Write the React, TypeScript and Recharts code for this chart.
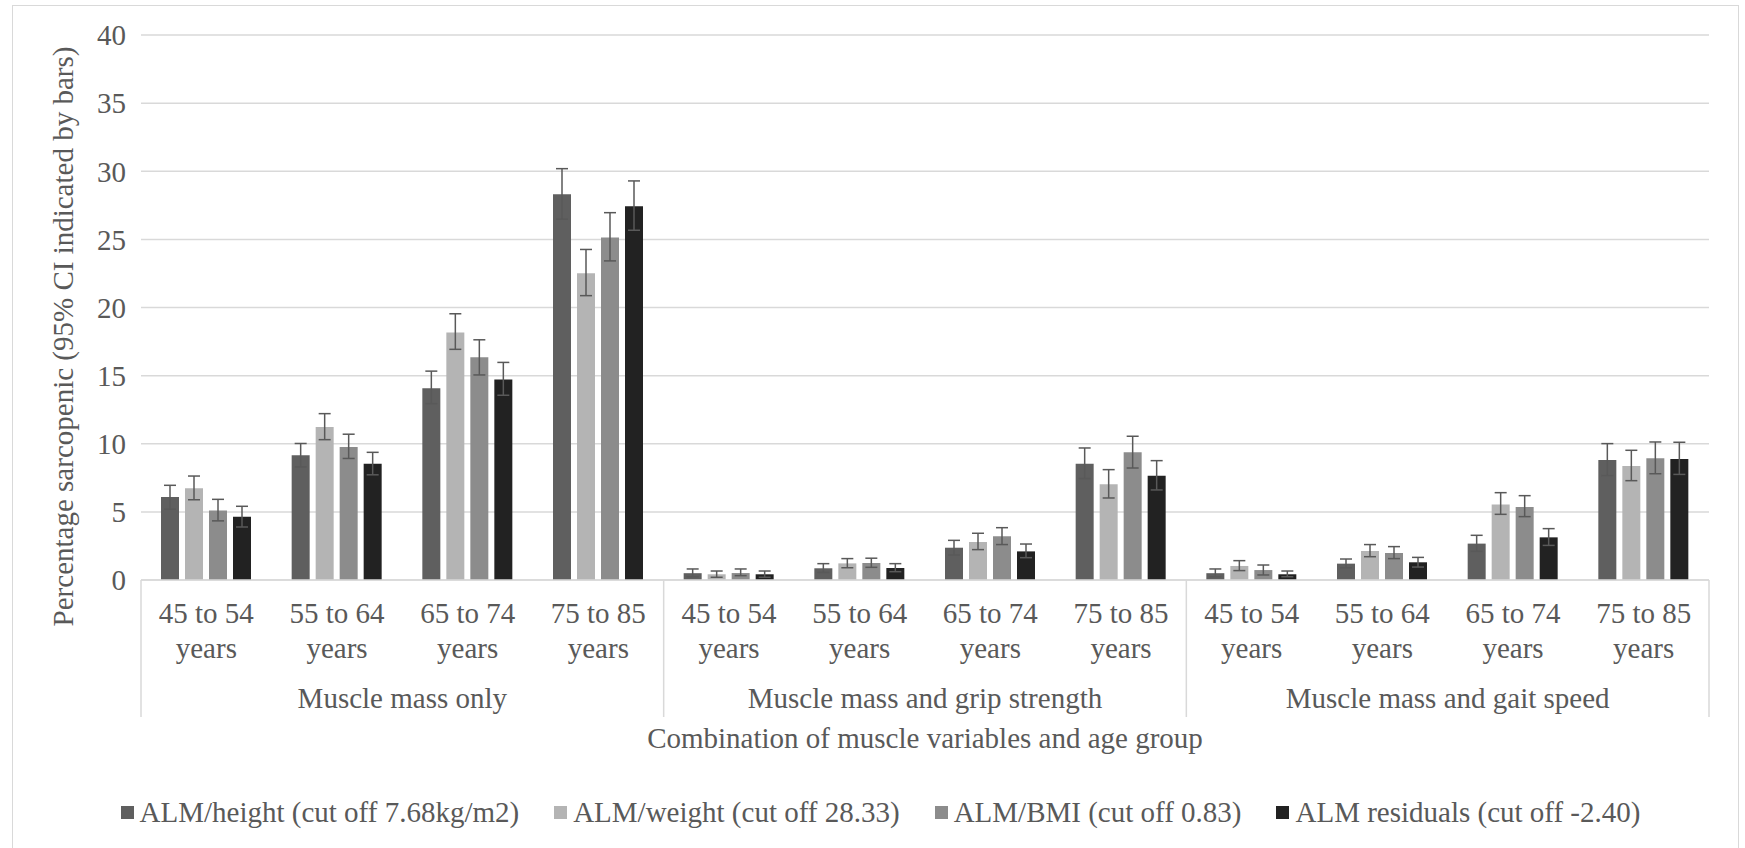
import { BarChart, Bar, XAxis, YAxis, CartesianGrid, ErrorBar, Legend } from "recharts";

const groups = ["Muscle mass only", "Muscle mass and grip strength", "Muscle mass and gait speed"];
const ages = ["45 to 54", "55 to 64", "65 to 74", "75 to 85"];
const yTicks = [0, 5, 10, 15, 20, 25, 30, 35, 40];

const seriesNames = [
  "ALM/height (cut off 7.68kg/m2)",
  "ALM/weight (cut off 28.33)",
  "ALM/BMI (cut off 0.83)",
  "ALM residuals (cut off -2.40)",
];
const seriesColors = ["#5f5f5f", "#b4b4b4", "#8c8c8c", "#222222"];

const heightVals = [6.1, 9.15, 14.07, 28.31, 0.5, 0.86, 2.37, 8.54, 0.5, 1.2, 2.67, 8.81];
const heightLo = [5.2, 8.3, 12.94, 26.48, 0.24, 0.56, 1.84, 7.44, 0.24, 0.9, 2.1, 7.66];
const heightHi = [6.95, 10.02, 15.33, 30.19, 0.81, 1.2, 2.91, 9.69, 0.81, 1.54, 3.28, 10.01];

const weightVals = [6.73, 11.23, 18.17, 22.52, 0.42, 1.22, 2.79, 7.02, 1.03, 2.13, 5.55, 8.37];
const weightLo = [5.89, 10.3, 16.93, 20.87, 0.2, 0.9, 2.23, 6.02, 0.69, 1.71, 4.82, 7.29];
const weightHi = [7.63, 12.21, 19.54, 24.26, 0.66, 1.57, 3.43, 8.1, 1.42, 2.6, 6.41, 9.52];

const bmiVals = [5.1, 9.77, 16.34, 25.13, 0.51, 1.25, 3.21, 9.37, 0.73, 1.98, 5.36, 8.93];
const bmiLo = [4.34, 8.92, 15.05, 23.42, 0.32, 0.93, 2.6, 8.22, 0.37, 1.57, 4.65, 7.8];
const bmiHi = [5.92, 10.7, 17.63, 26.96, 0.81, 1.6, 3.84, 10.55, 1.1, 2.45, 6.19, 10.13];

const residVals = [4.65, 8.53, 14.71, 27.44, 0.42, 0.88, 2.1, 7.66, 0.42, 1.3, 3.13, 8.88];
const residLo = [3.89, 7.72, 13.56, 25.67, 0.2, 0.61, 1.64, 6.61, 0.24, 0.95, 2.54, 7.75];
const residHi = [5.41, 9.37, 15.97, 29.29, 0.66, 1.2, 2.64, 8.76, 0.66, 1.66, 3.77, 10.11];

const series = [
  [heightVals, heightLo, heightHi],
  [weightVals, weightLo, weightHi],
  [bmiVals, bmiLo, bmiHi],
  [residVals, residLo, residHi],
];

const data = groups.flatMap((g, gi) =>
  ages.map((age, ai) => {
    const i = gi * ages.length + ai;
    const row: any = { group: g, age };
    series.forEach(([v, lo, hi], s) => {
      row["s" + s] = v[i];
      row["e" + s] = [+(v[i] - lo[i]).toFixed(2), +(hi[i] - v[i]).toFixed(2)];
    });
    return row;
  })
);

const FONT = '"Liberation Serif", "Times New Roman", serif';
const TEXT = "#595959";
const LINE = "#d9d9d9";

function CategoryTick(props: any) {
  const { x, y, payload, index } = props;
  const half = payload?.offset ?? 65.3;
  const i = index ?? payload?.index ?? 0;
  const per = ages.length;
  return (
    <g>
      <text x={x} y={y + 43} textAnchor="middle" fill={TEXT} fontSize={29} fontFamily={FONT}>
        {payload.value}
      </text>
      <text x={x} y={y + 78} textAnchor="middle" fill={TEXT} fontSize={29} fontFamily={FONT}>
        years
      </text>
      {i % per === 0 && <line x1={x - half} x2={x - half} y1={y} y2={y + 137} stroke={LINE} strokeWidth={1.5} />}
      {i === data.length - 1 && (
        <line x1={x + half} x2={x + half} y1={y} y2={y + 137} stroke={LINE} strokeWidth={1.5} />
      )}
      {i % per === 1 && (
        <text x={x + half} y={y + 128} textAnchor="middle" fill={TEXT} fontSize={29} fontFamily={FONT}>
          {groups[Math.floor(i / per)]}
        </text>
      )}
    </g>
  );
}

function LegendContent() {
  return (
    <div
      style={{
        display: "flex",
        justifyContent: "center",
        alignItems: "center",
        paddingLeft: 16,
        fontFamily: FONT,
        fontSize: 29,
        lineHeight: "33px",
        color: TEXT,
      }}
    >
      {seriesNames.map((n, s) => (
        <div key={n} style={{ display: "flex", alignItems: "center", marginRight: s < 3 ? 35 : 0 }}>
          <span style={{ width: 13, height: 13, background: seriesColors[s], marginRight: 6, display: "inline-block" }} />
          <span>{n}</span>
        </div>
      ))}
    </div>
  );
}

export default function App() {
  return (
    <div style={{ position: "absolute", left: 0, top: 0, width: 1745, height: 848, overflow: "hidden", background: "#fff" }}>
      <div
        style={{
          position: "absolute",
          left: 12,
          top: 5,
          width: 1725,
          height: 900,
          borderTop: `1.5px solid ${LINE}`,
          borderLeft: `1.5px solid ${LINE}`,
          borderRight: `1.5px solid ${LINE}`,
        }}
      />
      <BarChart
        width={1745}
        height={848}
        data={data}
        margin={{ top: 35, right: 36, bottom: 138, left: 0 }}
        barSize={18}
        barGap={6}
        style={{ fontFamily: FONT }}
      >
        <CartesianGrid vertical={false} stroke={LINE} strokeWidth={1.5} />
        <XAxis
          dataKey="age"
          interval={0}
          height={130}
          tickLine={false}
          tickSize={0}
          tickMargin={0}
          axisLine={{ stroke: LINE, strokeWidth: 1.5 }}
          tick={<CategoryTick />}
          label={(p: any) => {
            const vb = p.viewBox || { x: 141, y: 580, width: 1568 };
            return (
              <text x={vb.x + vb.width / 2} y={vb.y + 168} textAnchor="middle" fill={TEXT} fontSize={29} fontFamily={FONT}>
                Combination of muscle variables and age group
              </text>
            );
          }}
        />
        <YAxis
          width={141}
          domain={[0, 40]}
          ticks={yTicks}
          axisLine={false}
          tickLine={false}
          tickSize={6}
          tickMargin={9}
          tick={{ fill: TEXT, fontSize: 29, fontFamily: FONT }}
          label={(p: any) => {
            const vb = p.viewBox || { x: 0, y: 35, height: 545 };
            const cy = vb.y + vb.height / 2 + 29;
            return (
              <text
                x={63}
                y={cy}
                transform={`rotate(-90, 63, ${cy})`}
                textAnchor="middle"
                dominantBaseline="central"
                fill={TEXT}
                fontSize={29}
                fontFamily={FONT}
              >
                Percentage sarcopenic (95% CI indicated by bars)
              </text>
            );
          }}
        />
        <Legend
          layout="horizontal"
          verticalAlign="middle"
          align="center"
          content={<LegendContent />}
          wrapperStyle={{ top: 796, left: 0, width: 1745 }}
        />
        {seriesNames.map((n, s) => (
          <Bar key={n} dataKey={"s" + s} name={n} fill={seriesColors[s]} isAnimationActive={false}>
            <ErrorBar dataKey={"e" + s} width={6} stroke="#595959" strokeWidth={1.5} direction="y" />
          </Bar>
        ))}
      </BarChart>
    </div>
  );
}
